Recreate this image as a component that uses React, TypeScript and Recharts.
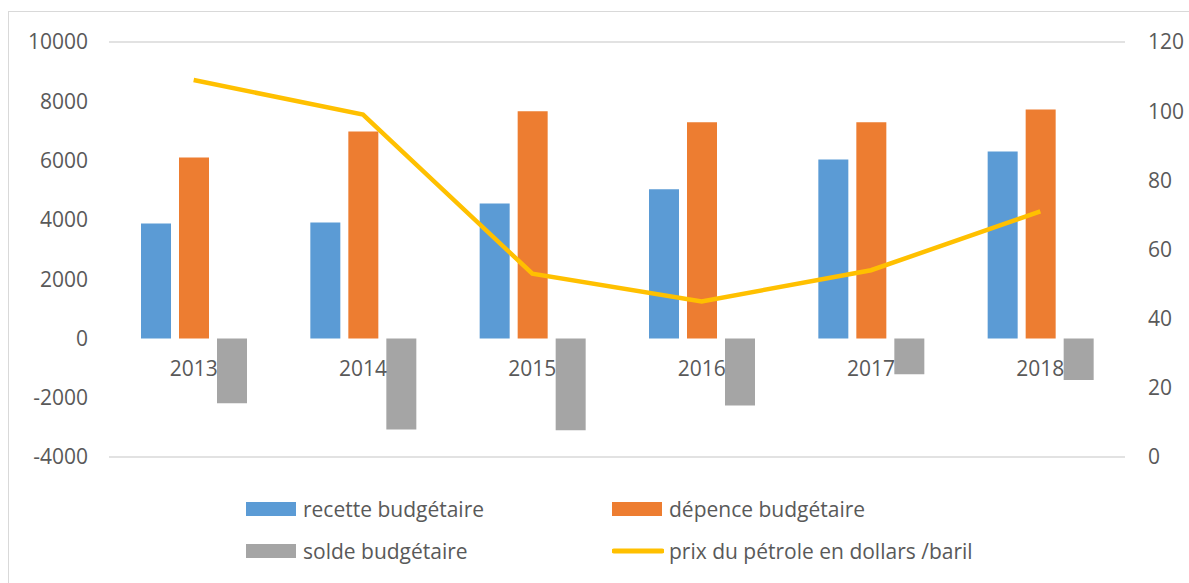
import React from 'react';
import { ComposedChart, Bar, Line, XAxis, YAxis, CartesianGrid, Legend } from 'recharts';

const years = ['2013', '2014', '2015', '2016', '2017', '2018'];
const recette = [3880, 3910, 4550, 5030, 6040, 6310];
const depence = [6100, 6980, 7660, 7290, 7290, 7720];
const solde = [-2190, -3070, -3100, -2260, -1210, -1400];
const prixPetrole = [109, 99, 53, 45, 54, 71];

const leftTicks = [-4000, -2000, 0, 2000, 4000, 6000, 8000, 10000];
const rightTicks = [0, 20, 40, 60, 80, 100, 120];

const data = years.map((year, i) => ({
  year,
  recette: recette[i],
  depence: depence[i],
  solde: solde[i],
  prix: prixPetrole[i],
}));

const W = 1189;
const H = 583;
const margin = { top: 42, right: 0, left: 0, bottom: 125 };
const X_AXIS_H = 1;
const FONT = '"Open Sans", sans-serif';
const TEXT = '#595959';

// zero of the left axis, so the year labels sit just under it
const plotH = H - margin.top - margin.bottom - X_AXIS_H;
const zeroY = margin.top + plotH * (10000 / (10000 + 4000));

const YearTick = (props: any) => {
  const { x, payload } = props;
  return (
    <text x={x} y={zeroY + 30} textAnchor="middle" dominantBaseline="central" fill={TEXT} fontSize={21} fontFamily={FONT}>
      {payload.value}
    </text>
  );
};

const legendItems = [
  { label: 'recette budgétaire', color: '#5B9BD5', type: 'rect' },
  { label: 'dépence budgétaire', color: '#ED7D31', type: 'rect' },
  { label: 'solde budgétaire', color: '#A5A5A5', type: 'rect' },
  { label: 'prix du pétrole en dollars /baril', color: '#FFC000', type: 'line' },
];

const LegendBox = () => (
  <div style={{ display: 'grid', gridTemplateColumns: '366px 420px', gridAutoRows: '42px', fontFamily: FONT, fontSize: 21, color: TEXT }}>
    {legendItems.map((it) => (
      <div key={it.label} style={{ display: 'flex', alignItems: 'center' }}>
        <svg width={52} height={16} style={{ marginRight: 5 }}>
          {it.type === 'rect' ? (
            <rect x={0} y={1} width={50} height={14} fill={it.color} />
          ) : (
            <line x1={2} y1={8} x2={50} y2={8} stroke={it.color} strokeWidth={5} strokeLinecap="round" />
          )}
        </svg>
        <span style={{ whiteSpace: 'nowrap' }}>{it.label}</span>
      </div>
    ))}
  </div>
);

export default function App() {
  return (
    <div style={{ position: 'absolute', left: 0, top: 0, width: W, height: H, overflow: 'hidden', background: '#fff' }}>
      <div style={{ position: 'absolute', left: 8, top: 11, width: 1300, height: 700, border: '1.5px solid #d9d9d9' }} />
      <ComposedChart width={W} height={H} data={data} margin={margin} barGap={8} barSize={30} style={{ position: 'absolute', left: 0, top: 0 }}>
        <CartesianGrid vertical={false} stroke="#d9d9d9" strokeWidth={1.5} />
        <XAxis dataKey="year" height={X_AXIS_H} axisLine={false} tickLine={false} tick={<YearTick />} interval={0} />
        <YAxis
          yAxisId="left"
          width={109}
          domain={[-4000, 10000]}
          ticks={leftTicks}
          axisLine={false}
          tickLine={false}
          tickMargin={15}
          tick={{ fill: TEXT, fontSize: 21, fontFamily: FONT }}
        />
        <YAxis
          yAxisId="right"
          orientation="right"
          width={64}
          domain={[0, 120]}
          ticks={rightTicks}
          axisLine={false}
          tickLine={false}
          tickMargin={17}
          tick={{ fill: TEXT, fontSize: 21, fontFamily: FONT, textAnchor: 'start' }}
        />
        <Bar yAxisId="left" dataKey="recette" fill="#5B9BD5" isAnimationActive={false} />
        <Bar yAxisId="left" dataKey="depence" fill="#ED7D31" isAnimationActive={false} />
        <Bar yAxisId="left" dataKey="solde" fill="#A5A5A5" isAnimationActive={false} />
        <Line yAxisId="right" dataKey="prix" stroke="#FFC000" strokeWidth={4.5} dot={false} isAnimationActive={false} />
        <Legend
          layout="horizontal"
          verticalAlign="middle"
          align="center"
          content={<LegendBox />}
          wrapperStyle={{ top: 488, left: 246, width: 800 }}
        />
      </ComposedChart>
    </div>
  );
}
